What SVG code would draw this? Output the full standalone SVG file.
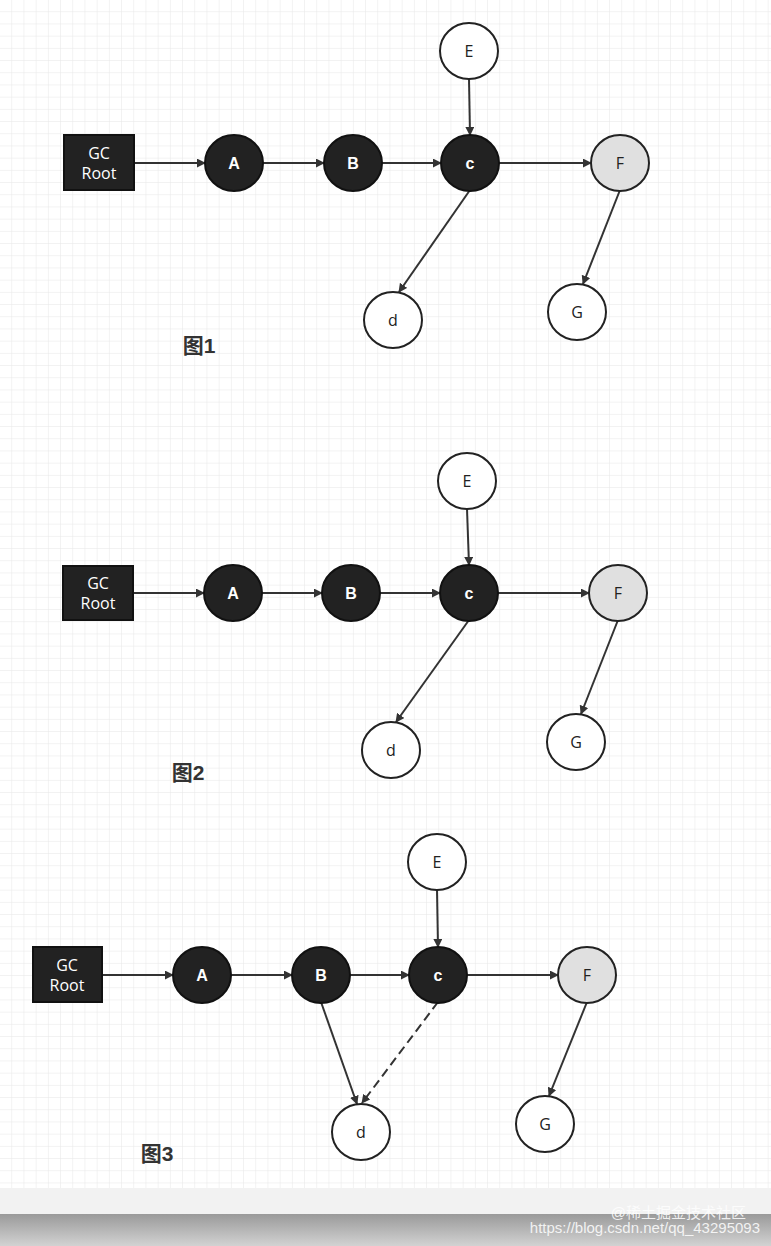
<svg xmlns="http://www.w3.org/2000/svg" width="771" height="1246" viewBox="0 0 771 1246">
<defs>
<pattern id="grid" width="12.2" height="12.2" patternUnits="userSpaceOnUse"><path d="M12.2 0V12.2H0" fill="none" stroke="#e6e6e6" stroke-width="1"/></pattern>
<marker id="ar" viewBox="0 0 10 10" refX="9" refY="5" markerWidth="9" markerHeight="9" markerUnits="userSpaceOnUse" orient="auto"><path d="M0 0L10 5L0 10z" fill="#333"/></marker>
<linearGradient id="sh" x1="0" y1="0" x2="0" y2="1"><stop offset="0" stop-color="#9a9a9a"/><stop offset="1" stop-color="#d2d2d2"/></linearGradient>
</defs>
<style>
.dk{fill:#222;stroke:#111;stroke-width:2}
.wt{fill:#fff;stroke:#222;stroke-width:2}
.gy{fill:#e0e0e0;stroke:#222;stroke-width:2}
.tw{fill:#fff;font-family:"Open Sans","Liberation Sans",sans-serif;font-size:16px;text-anchor:middle;dominant-baseline:central}
.twb{fill:#fff;font-family:"Liberation Sans",sans-serif;font-size:16px;font-weight:bold;text-anchor:middle;dominant-baseline:central}
.tb{fill:#222;font-family:"Open Sans","Liberation Sans",sans-serif;font-size:16px;text-anchor:middle;dominant-baseline:central}
.lb{fill:#333;font-family:"Liberation Sans","Noto Sans CJK SC",sans-serif;font-size:21px;font-weight:bold;text-anchor:middle;dominant-baseline:central}
.e{stroke:#333;stroke-width:2;fill:none;marker-end:url(#ar)}
</style>
<rect width="771" height="1246" fill="#fff"/>
<rect width="771" height="1188" fill="url(#grid)"/>
<rect y="1188" width="771" height="26" fill="#f2f2f2"/>
<rect y="1214" width="771" height="32" fill="url(#sh)"/>
<g id="connectors">
<line class="e" x1="134" y1="163" x2="205" y2="163"/>
<line class="e" x1="263" y1="163" x2="324" y2="163"/>
<line class="e" x1="382" y1="163" x2="441" y2="163"/>
<line class="e" x1="469" y1="79" x2="470" y2="135"/>
<line class="e" x1="499" y1="163" x2="591" y2="163"/>
<line class="e" x1="470" y1="190" x2="399" y2="292"/>
<line class="e" x1="620" y1="190" x2="583" y2="284"/>
<line class="e" x1="133" y1="593" x2="204" y2="593"/>
<line class="e" x1="262" y1="593" x2="322" y2="593"/>
<line class="e" x1="380" y1="593" x2="440" y2="593"/>
<line class="e" x1="467" y1="509" x2="469" y2="565"/>
<line class="e" x1="498" y1="593" x2="589" y2="593"/>
<line class="e" x1="469" y1="620" x2="396" y2="722"/>
<line class="e" x1="618" y1="620" x2="581" y2="714"/>
<line class="e" x1="102" y1="975" x2="173" y2="975"/>
<line class="e" x1="231" y1="975" x2="292" y2="975"/>
<line class="e" x1="350" y1="975" x2="409" y2="975"/>
<line class="e" x1="437" y1="890" x2="438" y2="947"/>
<line class="e" x1="467" y1="975" x2="558" y2="975"/>
<line class="e" x1="321" y1="1002" x2="357" y2="1104"/>
<line class="e" x1="438" y1="1002" x2="362" y2="1103" stroke-dasharray="9 5"/>
<line class="e" x1="587" y1="1002" x2="549" y2="1096"/>
</g>
<g id="gcroot1"><rect class="dk" x="64" y="135" width="70" height="55"/><text class="tw" x="99" y="153">GC</text><text class="tw" x="99" y="173">Root</text></g>
<g id="A1"><ellipse class="dk" cx="234" cy="163" rx="29" ry="28"/><text class="twb" x="234" y="163">A</text></g>
<g id="B1"><ellipse class="dk" cx="353" cy="163" rx="29" ry="28"/><text class="twb" x="353" y="163">B</text></g>
<g id="c1"><ellipse class="dk" cx="470" cy="163" rx="29" ry="28"/><text class="twb" x="470" y="163">c</text></g>
<g id="F1"><ellipse class="gy" cx="620" cy="163" rx="29" ry="28"/><text class="tb" x="620" y="163">F</text></g>
<g id="E1"><ellipse class="wt" cx="469" cy="51" rx="29" ry="28"/><text class="tb" x="469" y="51">E</text></g>
<g id="d1"><ellipse class="wt" cx="393" cy="320" rx="29" ry="28"/><text class="tb" x="393" y="320">d</text></g>
<g id="G1"><ellipse class="wt" cx="577" cy="312" rx="29" ry="28"/><text class="tb" x="577" y="312">G</text></g>
<g id="label1"><text class="lb" x="199" y="345">图1</text></g>
<g id="gcroot2"><rect class="dk" x="63" y="566" width="70" height="54"/><text class="tw" x="98" y="583">GC</text><text class="tw" x="98" y="603">Root</text></g>
<g id="A2"><ellipse class="dk" cx="233" cy="593" rx="29" ry="28"/><text class="twb" x="233" y="593">A</text></g>
<g id="B2"><ellipse class="dk" cx="351" cy="593" rx="29" ry="28"/><text class="twb" x="351" y="593">B</text></g>
<g id="c2"><ellipse class="dk" cx="469" cy="593" rx="29" ry="28"/><text class="twb" x="469" y="593">c</text></g>
<g id="F2"><ellipse class="gy" cx="618" cy="593" rx="29" ry="28"/><text class="tb" x="618" y="593">F</text></g>
<g id="E2"><ellipse class="wt" cx="467" cy="481" rx="29" ry="28"/><text class="tb" x="467" y="481">E</text></g>
<g id="d2"><ellipse class="wt" cx="391" cy="750" rx="29" ry="28"/><text class="tb" x="391" y="750">d</text></g>
<g id="G2"><ellipse class="wt" cx="576" cy="742" rx="29" ry="28"/><text class="tb" x="576" y="742">G</text></g>
<g id="label2"><text class="lb" x="188" y="772">图2</text></g>
<g id="gcroot3"><rect class="dk" x="33" y="947" width="69" height="55"/><text class="tw" x="67" y="965">GC</text><text class="tw" x="67" y="985">Root</text></g>
<g id="A3"><ellipse class="dk" cx="202" cy="975" rx="29" ry="28"/><text class="twb" x="202" y="975">A</text></g>
<g id="B3"><ellipse class="dk" cx="321" cy="975" rx="29" ry="28"/><text class="twb" x="321" y="975">B</text></g>
<g id="c3"><ellipse class="dk" cx="438" cy="975" rx="29" ry="28"/><text class="twb" x="438" y="975">c</text></g>
<g id="F3"><ellipse class="gy" cx="587" cy="975" rx="29" ry="28"/><text class="tb" x="587" y="975">F</text></g>
<g id="E3"><ellipse class="wt" cx="437" cy="862" rx="29" ry="28"/><text class="tb" x="437" y="862">E</text></g>
<g id="d3"><ellipse class="wt" cx="361" cy="1132" rx="29" ry="28"/><text class="tb" x="361" y="1132">d</text></g>
<g id="G3"><ellipse class="wt" cx="545" cy="1124" rx="29" ry="28"/><text class="tb" x="545" y="1124">G</text></g>
<g id="label3"><text class="lb" x="157" y="1153">图3</text></g>
<g id="watermark" font-family="Liberation Sans,Noto Sans CJK SC,sans-serif" font-size="15" fill="#ffffff" fill-opacity="0.85" text-anchor="end">
<text x="746" y="1218">@稀土掘金技术社区</text>
<text x="760" y="1233">https://blog.csdn.net/qq_43295093</text>
</g>
</svg>
